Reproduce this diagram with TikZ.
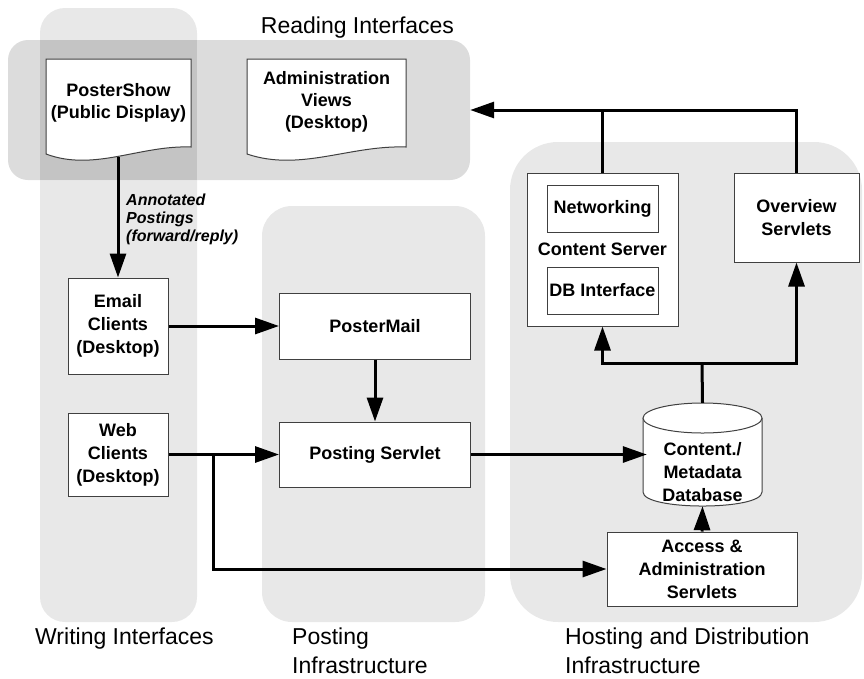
\documentclass[tikz,border=0pt]{standalone}
\usepackage{fontspec}
\setmainfont{Liberation Sans}
\usetikzlibrary{arrows.meta}
\definecolor{colcol}{HTML}{E8E8E8}
\definecolor{rowcol}{HTML}{DCDCDC}
\definecolor{ovcol}{HTML}{C4C4C4}
\definecolor{bordcol}{HTML}{404040}
\begin{document}
\begin{tikzpicture}[x=1pt,y=-1pt,
  box/.style={draw=bordcol, line width=1pt, fill=white, inner sep=0pt, align=center,
    font=\fontsize{18}{23}\selectfont\bfseries},
  doc/.style={draw=bordcol, line width=1pt, fill=white},
  doctext/.style={inner sep=0pt, align=center, font=\fontsize{18}{22}\selectfont\bfseries},
  conn/.style={line width=3pt, draw=black},
  arr/.style={conn, -{Triangle[length=24pt,width=16pt]}},
  grplabel/.style={font=\fontsize{23}{29}\selectfont, inner sep=0pt, align=left},
  annot/.style={font=\fontsize{16}{18}\selectfont\bfseries\itshape, inner sep=0pt, align=left}]
\useasboundingbox (0,0) rectangle (864,678);
% group backgrounds
\fill[colcol, rounded corners=25pt] (40,8) rectangle (197,622);
\node[fill=rowcol, rounded corners=20pt, minimum width=462pt, minimum height=140pt, inner sep=0pt] (reading) at (239,110) {};
\fill[ovcol] (40,40) rectangle (197,180);
\fill[colcol, rounded corners=30pt] (262,206) rectangle (485,622);
\fill[colcol, rounded corners=48pt] (510,142) rectangle (862,622);
% group labels
\node[grplabel, anchor=base] (lread) at (357.5,33) {Reading Interfaces};
\node[grplabel, anchor=north west] (lwrite) at (35,628) {Writing Interfaces};
\node[grplabel, anchor=north west] (lpost) at (292,628) {Posting\\Infrastructure};
\node[grplabel, anchor=north west] (lhost) at (565,628) {Hosting and Distribution\\Infrastructure};
% document shapes
\draw[doc] (46,154) -- (46,59) -- (191,59) -- (191,147) .. controls (140,145) and (94,172) .. (46,154) -- cycle;
\node[doctext] (pshow) at (118.5,103) {PosterShow\\(Public Display)};
\draw[doc] (247,154) -- (247,59) -- (406,59) -- (406,147) .. controls (350,145) and (300,172) .. (247,154) -- cycle;
\node[doctext] (aviews) at (326.5,102) {Administration\\Views\\(Desktop)};
\coordinate (psb) at (118,157);
% boxes
\node[box, minimum width=100pt, minimum height=96pt] (email) at (118,326) {Email\\Clients\\(Desktop)};
\node[box, minimum width=100pt, minimum height=83pt] (web) at (118,454.5) {Web\\Clients\\(Desktop)};
\node[box, minimum width=191pt, minimum height=66pt] (pmail) at (375,326) {PosterMail};
\node[box, minimum width=191pt, minimum height=65pt] (pserv) at (375,454.5) {Posting Servlet};
\node[box, minimum width=151pt, minimum height=153pt] (cs) at (602.5,249.5) {Content Server};
\node[box, minimum width=111pt, minimum height=47pt] (net) at (602.5,208.5) {Networking};
\node[box, minimum width=111pt, minimum height=47pt] (dbi) at (602.5,290.5) {DB Interface};
\node[box, minimum width=125pt, minimum height=89pt] (ov) at (796.5,217.5) {Overview\\Servlets};
\node[box, minimum width=190pt, minimum height=74pt] (acc) at (702,569) {Access \&\\Administration\\Servlets};
% database cylinder
\fill[white] (643,418) -- (643,492) .. controls (643,510.7) and (762,510.7) .. (762,492) -- (762,418) -- cycle;
\draw[doc] (643,418) -- (643,492) .. controls (643,510.7) and (762,510.7) .. (762,492) -- (762,418);
\draw[doc] (702.5,418) ellipse [x radius=59.5, y radius=15];
\node[inner sep=0pt, minimum width=119pt, minimum height=103pt] (db) at (702.5,454.5) {};
\node[inner sep=0pt, align=center, font=\fontsize{18}{23}\selectfont\bfseries] (dbtext) at (702.5,472) {Content./\\Metadata\\Database};
% connectors
\draw[arr] (psb) -- (email.north);
\node[annot, anchor=north west] (annlab) at (126,194) {Annotated\\Postings\\(forward/reply)};
\draw[arr] (email.east) -- (pmail.west);
\draw[arr] (pmail.south) -- (pserv.north);
\draw[arr] (web.east) -- (pserv.west);
\coordinate (wb) at (213,454.5);
\draw[arr] (wb) |- (acc.west);
\draw[arr] (pserv.east) -- ([xshift=4pt]db.west);
\draw[arr] (acc.north) -- (db.south);
\coordinate (split) at (702,363);
\draw[conn] (db.north) -- (split);
\draw[arr] (split) -| (cs.south);
\draw[arr] (split) -| (ov.south);
\draw[arr] (cs.north) |- (reading.east);
\draw[conn] (ov.north) |- (cs.north |- reading.east);
\end{tikzpicture}
\end{document}
